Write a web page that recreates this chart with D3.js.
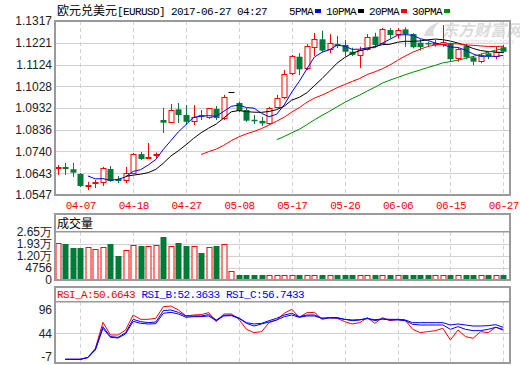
<!DOCTYPE html>
<html><head><meta charset="utf-8">
<script src="https://cdn.jsdelivr.net/npm/d3@7/dist/d3.min.js"></script>
<style>html,body{margin:0;padding:0;background:#fff}svg{display:block}</style>
</head><body>
<svg id="chart" width="520" height="365"></svg>
<script>
// ---------- data ----------
const tickIndex  = [3,10,17,24,31,38,45,52,59];
const tickLabels = ['04-07','04-18','04-27','05-08','05-17','05-26','06-06','06-15','06-27'];
const priceTicks = [1.1317,1.1221,1.1124,1.1028,1.0932,1.0836,1.0740,1.0643,1.0547];

const open = [1.0667,1.0671,1.0661,1.0640,1.0589,1.0599,1.0605,1.0662,1.0618,1.0613,
1.0644,1.0728,1.0711,1.0727,1.0879,1.0871,1.0926,1.0901,1.0874,1.0901,
1.0893,1.0928,1.0888,1.1004,1.0954,1.0923,1.0880,1.0875,1.0864,1.0935,
1.0981,1.1086,1.1159,1.1108,1.1201,1.1236,1.1192,1.1215,1.1211,1.1181,
1.1167,1.1192,1.1248,1.1221,1.1277,1.1259,1.1280,1.1259,1.1221,1.1220,
1.1217,1.1215,1.1218,1.1152,1.1206,1.1156,1.1141,1.1174,1.1162,1.1201];
const high = [1.0680,1.0689,1.0689,1.0644,1.0605,1.0613,1.0671,1.0675,1.0631,1.0671,
1.0733,1.0737,1.0777,1.0735,1.0932,1.0950,1.0954,1.0945,1.0945,1.0923,
1.0932,1.0941,1.0990,1.1004,1.0960,1.0932,1.0901,1.0892,1.0937,1.0990,
1.1100,1.1167,1.1175,1.1215,1.1264,1.1274,1.1259,1.1251,1.1233,1.1199,
1.1203,1.1259,1.1265,1.1286,1.1285,1.1285,1.1289,1.1263,1.1236,1.1225,
1.1233,1.1299,1.1221,1.1197,1.1215,1.1162,1.1174,1.1181,1.1203,1.1211];
const low = [1.0636,1.0636,1.0627,1.0582,1.0569,1.0578,1.0587,1.0605,1.0600,1.0600,
1.0640,1.0702,1.0709,1.0711,1.0821,1.0866,1.0866,1.0857,1.0857,1.0879,
1.0884,1.0879,1.0879,1.1004,1.0914,1.0871,1.0861,1.0852,1.0857,1.0932,
1.0972,1.1078,1.1078,1.1100,1.1162,1.1181,1.1175,1.1197,1.1162,1.1162,
1.1109,1.1186,1.1203,1.1218,1.1240,1.1240,1.1203,1.1196,1.1186,1.1203,
1.1203,1.1203,1.1137,1.1137,1.1148,1.1122,1.1130,1.1148,1.1148,1.1175];
const close = [1.0671,1.0662,1.0646,1.0587,1.0591,1.0606,1.0667,1.0609,1.0609,1.0644,
1.0728,1.0706,1.0713,1.0730,1.0867,1.0923,1.0901,1.0871,1.0893,1.0893,
1.0932,1.0888,1.0981,1.1004,1.0920,1.0876,1.0877,1.0864,1.0931,1.0975,
1.1081,1.1162,1.1103,1.1206,1.1236,1.1186,1.1218,1.1206,1.1181,1.1167,
1.1189,1.1248,1.1211,1.1280,1.1255,1.1277,1.1259,1.1201,1.1201,1.1217,
1.1220,1.1223,1.1148,1.1192,1.1156,1.1137,1.1167,1.1159,1.1181,1.1181];

const volume = [19583,19164,16927,16927,17350,16141,17350,19164,11910,15536,
18559,17955,17955,18559,23340,17955,19762,17955,17955,13723,
17350,17955,19164,3427,1969,1969,1969,1969,1969,1969,
1969,1969,1969,1969,1969,1969,1969,1969,1969,1969,
1969,1969,1969,1969,1969,1969,1969,1969,1969,1969,
1969,1969,1969,1969,1969,1969,1969,1969,1969,1969];
const volTicks = [0,4756,12000,19300,26500];
const volTickLabels = ['0','4756','1.20万','1.93万','2.65万'];

const rsiTicks = [96,44,-7];
const rsiA = [null,-12.7,-12.7,-12.7,-8.3,11.2,67.7,40.2,40.2,51.1,
83.6,74.2,74.2,76.4,101.7,103.2,94.5,81.5,83.6,84.4,
88.7,69.2,85.8,85.8,74.2,52.5,45.3,47.4,67,72.8,
87.3,96,78.6,88.7,89.4,74.2,77.9,76.4,69.2,64.1,
67,77.9,65.5,77.9,71.3,74.2,72.8,52.5,45.3,47.4,
49.6,54.7,29.3,51.1,36.6,33,47.4,45.3,56.9,50.66];
const rsiB = [null,-12.7,-12.7,-12.7,-9,9.0,58.3,36.6,35.1,45.3,
74.2,69.2,67,68.4,93.1,94.5,89.4,81.5,81.5,81.5,
84.4,72.8,82.9,83.6,77.1,67,64.1,65.5,71.3,76.4,
83.6,87.3,80,83.6,83.6,76.4,77.9,77.9,74.2,71.3,
72.8,76.4,71.3,75,72.8,72.8,71.3,63.4,61.9,61.9,
61.9,61.9,52.5,58.3,52.5,49.6,49.6,52.5,56.9,52.36];
const rsiC = [null,-12.7,-12.7,-12.7,-9,7.6,54.7,35.1,33.7,42.4,
69.9,65.5,64.1,64.8,87.3,89.4,85.8,78.6,80,80,
81.5,71.3,81.5,82.2,76.4,65.5,59.7,64.1,68.4,72.8,
80,83.6,78.6,81.5,81.5,76.4,77.1,77.1,74.2,72.8,
73.5,75.7,73.5,75,74.2,74.2,72.8,67,67,67,
67,67,61.9,64.1,61.9,59.7,59.7,60.5,62.6,56.74];
const rsiLabels = ['RSI_A:50.6643','RSI_B:52.3633','RSI_C:56.7433'];

const maPeriods = [5,10,20,30];
const maNames = ['5PMA','10PMA','20PMA','30PMA'];
const titleCn = '欧元兑美元';
const titleCode = '[EURUSD] 2017-06-27 04:27';
const volTitle = '成交量';

// ---------- style ----------
const MONO = '"Liberation Mono","DejaVu Sans Mono",monospace';
const SANS = '"Liberation Sans",Arial,sans-serif';
const CJK = '"Noto Sans CJK SC","Noto Sans",sans-serif';
const RED='#ff0000', GREEN='#007a37', BLUE='#0000ff', GRID='#d2d2d2', FRAME='#9a9a9a';
const maColors = [BLUE,'#000000',RED,'#008800'];

const svg = d3.select('#chart');
const L = 55, R = 510;
const main = {top:21, bottom:195};
const vol = {frameTop:214, top:231.7, bottom:280};
const rsi = {frameTop:287, top:301.7, bottom:363};

const n = close.length;
const x = d3.scaleLinear().domain([0, n-1]).range([57.6, 503.3]);
const px = i => Math.round(x(i)) + 0.5;
const y = d3.scaleLinear().domain([priceTicks[priceTicks.length-1], priceTicks[0]]).range([main.bottom, main.top]);
const vstep = (vol.bottom - vol.top)/(volTicks.length-1);
const vy = d3.scaleLinear().domain(volTicks).range(volTicks.map((d,k)=>vol.bottom - k*vstep));
const ry = d3.scaleLinear().domain([rsiTicks[2], rsiTicks[0]]).range([rsi.bottom-6.3, rsi.top+7.6]);

// ---------- watermark ----------
const wm = svg.append('g').attr('opacity',0.35);
wm.append('text').attr('x',442).attr('y',36).attr('font-family',CJK).attr('font-weight','bold')
  .attr('font-size',16).attr('fill','#9a9a9a').attr('font-style','italic').text('东方财富网');
wm.append('path').attr('d','M424,36 C426,28 432,24 440,22 C434,27 432,31 434,36 Z').attr('fill','#9a9a9a');
wm.append('text').attr('x',458).attr('y',44).attr('font-family',SANS).attr('font-size',8)
  .attr('fill','#9a9a9a').text('eastmoney.com');

// ---------- grids ----------
function vgrid(top,bottom){
  svg.append('g').selectAll('line').data(tickIndex).join('line')
    .attr('x1',d=>px(d)).attr('x2',d=>px(d)).attr('y1',top).attr('y2',bottom)
    .attr('stroke',GRID).attr('stroke-dasharray','4,3');
}
vgrid(main.top, main.bottom);
vgrid(vol.top, vol.bottom);
vgrid(rsi.top, rsi.bottom);
svg.append('g').selectAll('line').data(priceTicks.slice(1,-1)).join('line')
  .attr('x1',L).attr('x2',R).attr('y1',d=>Math.round(y(d))+0.5).attr('y2',d=>Math.round(y(d))+0.5).attr('stroke',GRID);
svg.append('g').selectAll('line').data(volTicks.slice(1,-1)).join('line')
  .attr('x1',L).attr('x2',R).attr('y1',d=>Math.round(vy(d))+0.5).attr('y2',d=>Math.round(vy(d))+0.5).attr('stroke',GRID);
svg.append('g').selectAll('line').data([rsiTicks[1]]).join('line')
  .attr('x1',L).attr('x2',R).attr('y1',d=>Math.round(ry(d))+0.5).attr('y2',d=>Math.round(ry(d))+0.5).attr('stroke',GRID);

// ---------- candles ----------
const cg = svg.append('g');
for (let i=0;i<n;i++){
  const o=open[i], c=close[i], h=high[i], l=low[i], cx=px(i);
  if (c>o){
    const yt=Math.round(y(c))+0.5, yb=Math.round(y(o))+0.5;
    cg.append('line').attr('x1',cx).attr('x2',cx).attr('y1',y(h)).attr('y2',yt).attr('stroke',RED);
    cg.append('line').attr('x1',cx).attr('x2',cx).attr('y1',yb).attr('y2',y(l)).attr('stroke',RED);
    cg.append('rect').attr('x',cx-2.5).attr('y',yt).attr('width',5).attr('height',Math.max(1,yb-yt))
      .attr('fill','#fff').attr('stroke',RED);
  } else if (c<o){
    cg.append('line').attr('x1',cx).attr('x2',cx).attr('y1',y(h)).attr('y2',y(l)).attr('stroke',GREEN);
    const yt=y(o), yb=y(c);
    cg.append('rect').attr('x',cx-3).attr('y',yt).attr('width',6).attr('height',Math.max(1.5,yb-yt)).attr('fill',GREEN);
  } else {
    cg.append('line').attr('x1',cx).attr('x2',cx).attr('y1',y(h)).attr('y2',y(l)).attr('stroke','#000');
    cg.append('line').attr('x1',cx-3).attr('x2',cx+3).attr('y1',Math.round(y(c))+0.5).attr('y2',Math.round(y(c))+0.5).attr('stroke','#000');
  }
}

// ---------- moving averages ----------
const line = d3.line().defined(d=>d.v!=null).x(d=>x(d.i)).y(d=>y(d.v));
maPeriods.forEach((p,k)=>{
  const vals = close.map((c,i)=> i<p-1 ? null : d3.mean(close.slice(i-p+1,i+1)));
  svg.append('path').datum(vals.map((v,i)=>({i,v}))).attr('d',line)
    .attr('fill','none').attr('stroke',maColors[k]).attr('stroke-width',1);
});

// ---------- volume bars ----------
const vg = svg.append('g');
for (let i=0;i<n;i++){
  const cx=px(i), top=Math.round(vy(volume[i]))+0.5;
  if (close[i]>=open[i]){
    vg.append('rect').attr('x',cx-2.5).attr('y',top).attr('width',5).attr('height',vol.bottom-top)
      .attr('fill','#fff').attr('stroke',RED);
  } else {
    vg.append('rect').attr('x',cx-3).attr('y',top-0.5).attr('width',6).attr('height',vol.bottom-top+0.5).attr('fill',GREEN);
  }
}

// ---------- RSI ----------
const rline = d3.line().defined(d=>d.v!=null).x(d=>x(d.i)).y(d=>ry(d.v));
[[rsiA,RED],[rsiC,BLUE],[rsiB,BLUE]].forEach(([arr,col])=>{
  svg.append('path').datum(arr.map((v,i)=>({i,v}))).attr('d',rline)
    .attr('fill','none').attr('stroke',col).attr('stroke-width',1);
});

// ---------- frames ----------
function frame(top,bottom){
  svg.append('rect').attr('x',L).attr('y',top).attr('width',R-L).attr('height',bottom-top)
    .attr('fill','none').attr('stroke',FRAME).attr('stroke-width',2);
}
frame(main.top, main.bottom);
frame(vol.frameTop, vol.bottom);
frame(rsi.frameTop, rsi.bottom);
svg.append('line').attr('x1',L).attr('x2',R).attr('y1',vol.top).attr('y2',vol.top).attr('stroke',FRAME).attr('stroke-width',1.5);
svg.append('line').attr('x1',L).attr('x2',R).attr('y1',rsi.top).attr('y2',rsi.top).attr('stroke',FRAME).attr('stroke-width',1.5);

// ---------- axes ----------
function styleAxis(g, family, size, color){
  g.select('.domain').remove();
  g.selectAll('.tick line').remove();
  g.attr('font-family',family).attr('font-size',size);
  g.selectAll('text').attr('fill',color);
}
const ya = svg.append('g').attr('transform',`translate(${L},0)`)
  .call(d3.axisLeft(y).tickValues(priceTicks).tickFormat(d3.format('.4f')).tickSize(0).tickPadding(3));
styleAxis(ya, SANS, 12, '#222');

const xa = svg.append('g').attr('transform',`translate(0,${main.bottom})`)
  .call(d3.axisBottom(x).tickValues(tickIndex).tickFormat((d,k)=>tickLabels[k]).tickSize(0).tickPadding(6));
styleAxis(xa, MONO, 11, RED);
xa.selectAll('text').attr('letter-spacing','-0.6');

const va = svg.append('g').attr('transform',`translate(${L},0)`)
  .call(d3.axisLeft(vy).tickValues(volTicks).tickFormat((d,k)=>volTickLabels[k]).tickSize(0).tickPadding(3));
styleAxis(va, SANS, 12, '#222');

const ra = svg.append('g').attr('transform',`translate(${L},0)`)
  .call(d3.axisLeft(ry).tickValues(rsiTicks).tickFormat(d=>String(d)).tickSize(0).tickPadding(3));
styleAxis(ra, SANS, 12, '#222');

// ---------- titles / legends ----------
const t = svg.append('text').attr('x',57).attr('y',15).attr('fill','#000');
t.append('tspan').attr('font-family',CJK).attr('font-size',12).text(titleCn);
t.append('tspan').attr('font-family',MONO).attr('font-size',11).attr('letter-spacing','-0.6').text(titleCode);

let lx = 289;
maNames.forEach((name,k)=>{
  svg.append('text').attr('x',lx).attr('y',15).attr('font-family',MONO).attr('font-size',11)
    .attr('letter-spacing','-0.6').attr('fill','#000').text(name);
  lx += name.length*6 + 2;
  svg.append('rect').attr('x',lx).attr('y',9).attr('width',6).attr('height',4).attr('fill',maColors[k]);
  lx += 6 + 5;
});

svg.append('text').attr('x',57).attr('y',228).attr('font-family',CJK).attr('font-size',12).attr('fill','#000').text(volTitle);

const rsiColors=[RED,BLUE,BLUE];
rsiLabels.forEach((s,k)=>{
  svg.append('text').attr('x',57 + k*84.5).attr('y',298).attr('font-family',MONO).attr('font-size',11)
    .attr('letter-spacing','-0.6').attr('fill',rsiColors[k]).text(s);
});
</script>
</body></html>
